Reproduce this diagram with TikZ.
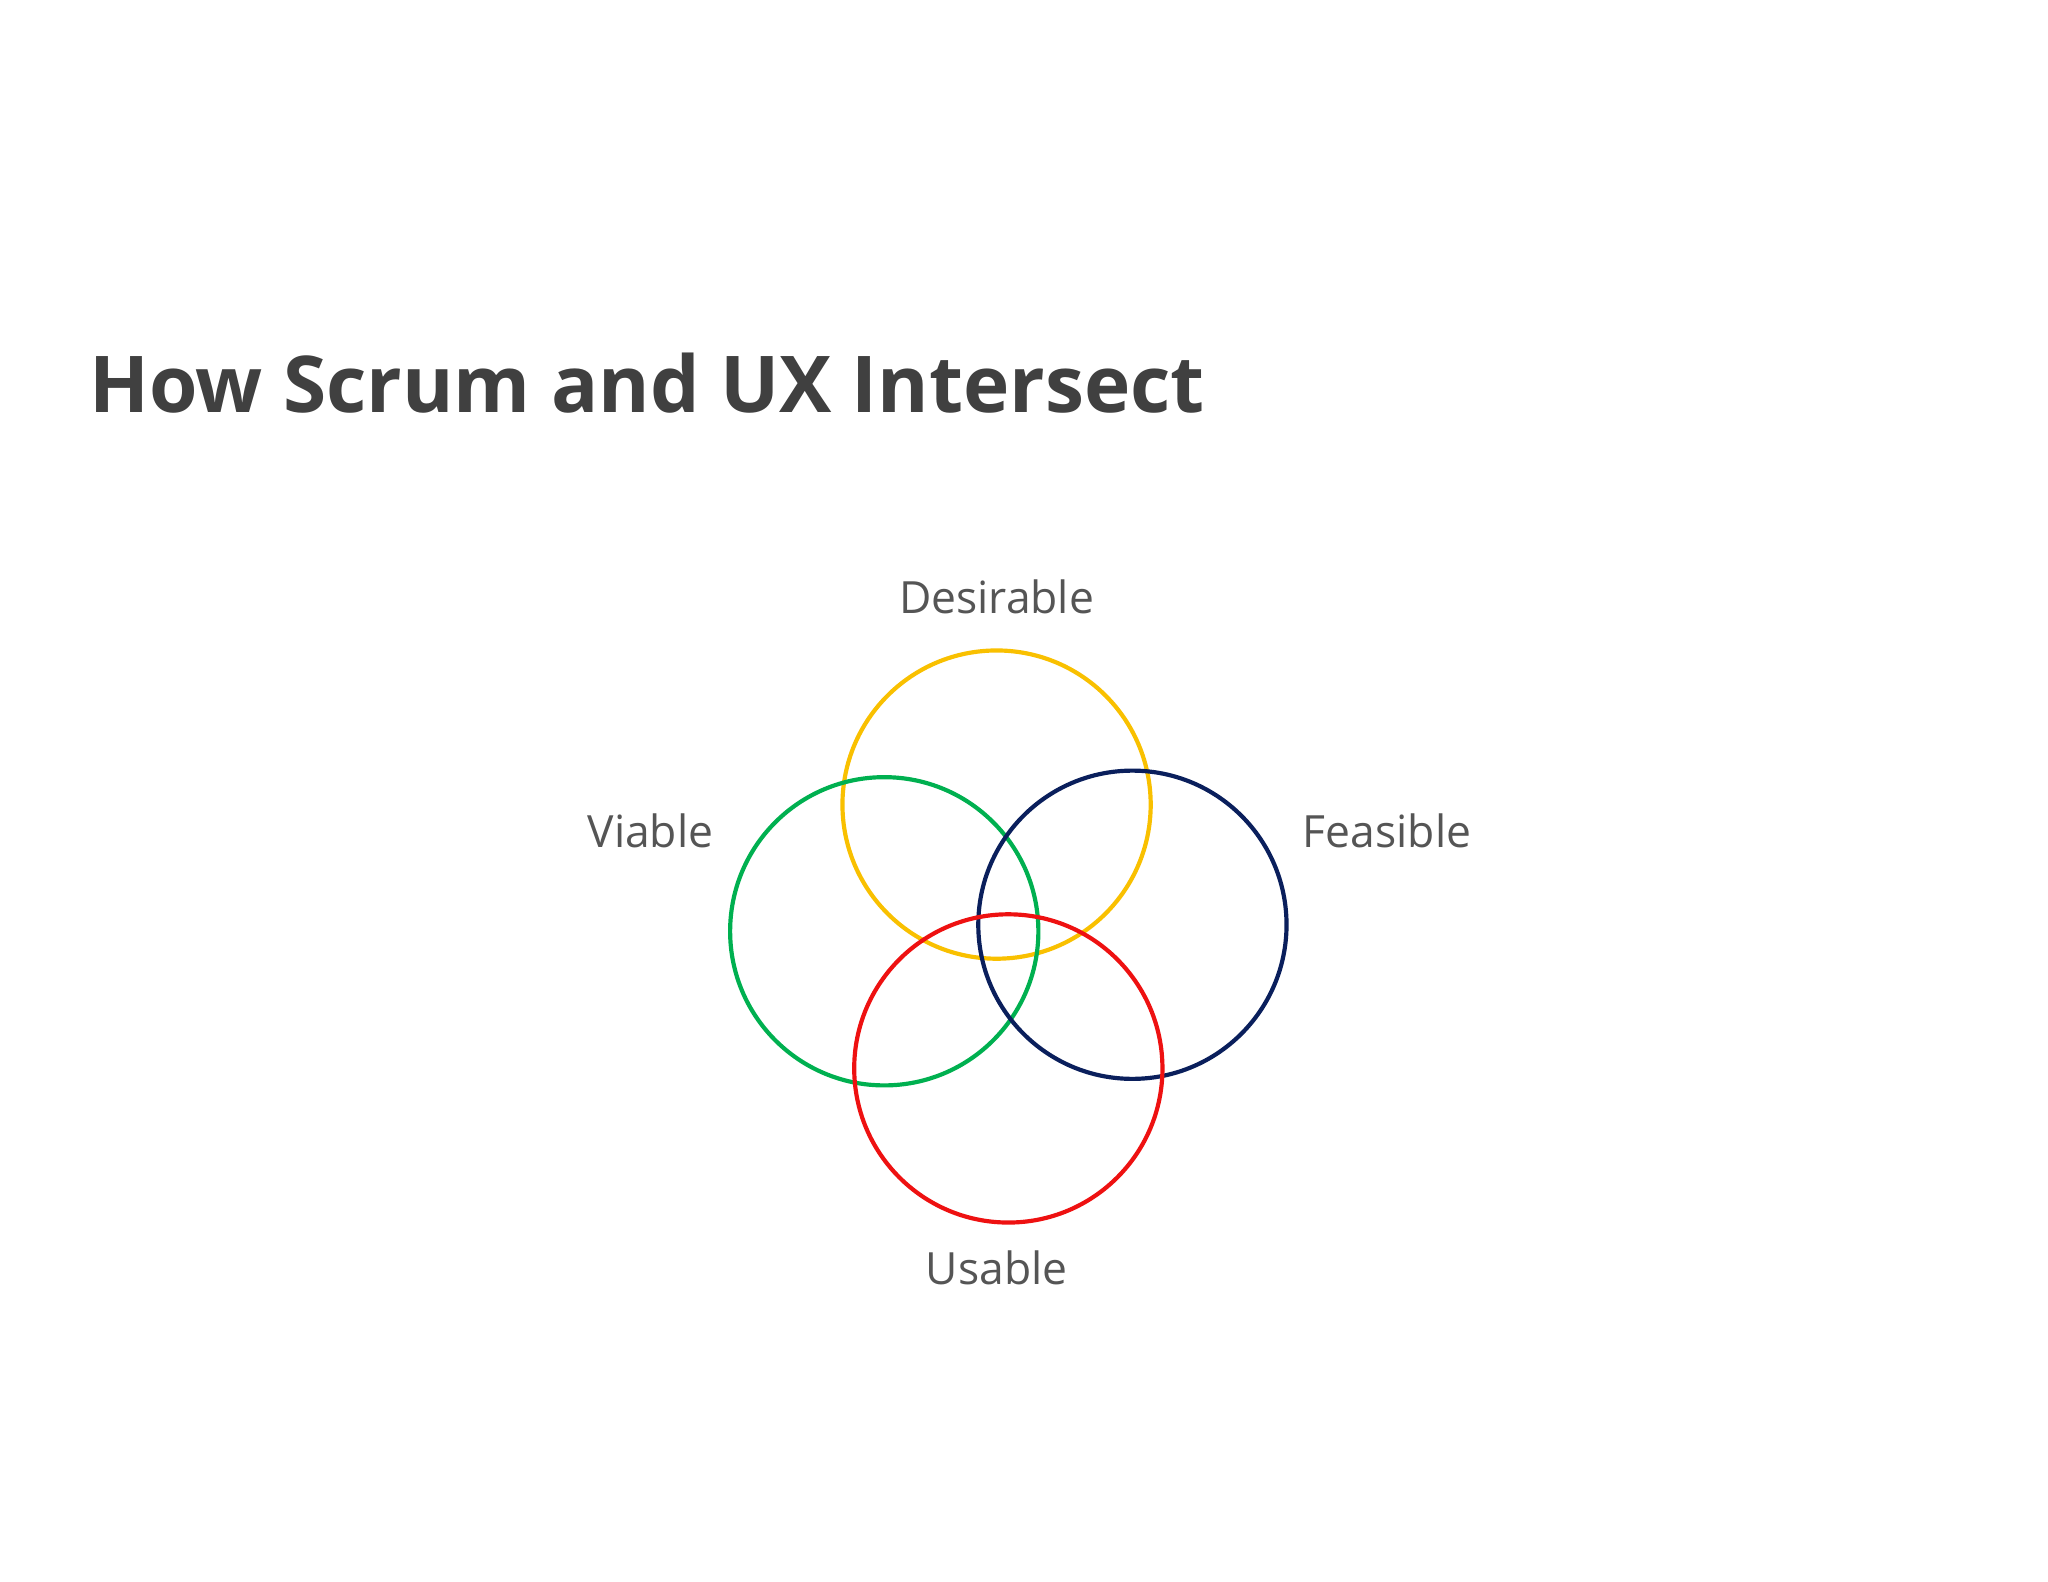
\documentclass[tikz,border=0pt]{standalone}
\usepackage{fontspec}
\setmainfont{Open Sans}
\definecolor{cy}{HTML}{F9C000}
\definecolor{cg}{HTML}{00B050}
\definecolor{cn}{HTML}{0A1F5C}
\definecolor{cr}{HTML}{EE1111}
\definecolor{tt}{HTML}{404040}
\definecolor{lb}{HTML}{555555}
\begin{document}
\begin{tikzpicture}[x=1pt,y=-1pt,
  ring/.style={draw,line width=3.2pt,circle,minimum size=236pt,inner sep=0pt},
  lab/.style={text=lb,font=\fontsize{34}{40}\selectfont,inner sep=0pt}]
\useasboundingbox (0,0) rectangle (1568,1211);
\fill[white] (0,0) rectangle (1568,1211);
\node[anchor=base west,text=tt,font=\fontsize{60}{70}\selectfont\bfseries,inner sep=0pt] (title) at (68,316) {How Scrum and UX Intersect};
\node[ring,cy] (d) at (763,616) {};
\node[ring,cg] (v) at (677,713) {};
\node[ring,cn] (f) at (867,708) {};
\node[ring,cr] (u) at (772,818) {};
\node[lab] (ld) at (763,457) {Desirable};
\node[lab] (lv) at (498,636) {Viable};
\node[lab] (lf) at (1062,636) {Feasible};
\node[lab] (lu) at (763,971) {Usable};
\end{tikzpicture}
\end{document}
